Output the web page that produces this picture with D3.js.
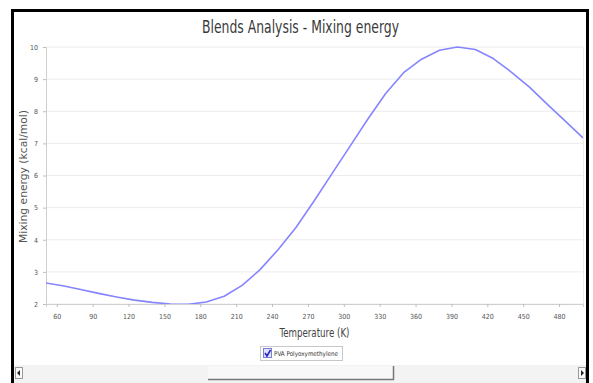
<!DOCTYPE html>
<html>
<head>
<meta charset="utf-8">
<script src="https://cdn.jsdelivr.net/npm/d3@7"></script>
<style>
  html, body { margin: 0; padding: 0; background: #fff; }
  svg { display: block; }
  text { font-family: "Liberation Sans Narrow", "Arial Narrow", "DejaVu Sans Condensed", sans-serif; }
</style>
</head>
<body>
<svg id="chart" width="593" height="383"></svg>
<script>
// Mixing energy of the PVA / Polyoxymethylene blend versus temperature
const temperatures = [50, 65, 80, 95, 110, 125, 140, 155, 170, 185, 200, 215, 230, 245, 260, 275,
                      290, 305, 320, 335, 350, 365, 380, 395, 410, 425, 440, 455, 470, 485, 500];
const mixingEnergy = [2.66, 2.57, 2.45, 2.33, 2.22, 2.12, 2.05, 2.0, 1.99, 2.06, 2.24, 2.58, 3.07, 3.69, 4.38, 5.2,
                      6.05, 6.9, 7.75, 8.55, 9.2, 9.62, 9.9, 10.0, 9.92, 9.64, 9.22, 8.76, 8.22, 7.7, 7.17];
const xTicks = [60, 90, 120, 150, 180, 210, 240, 270, 300, 330, 360, 390, 420, 450, 480];
const yTicks = [2, 3, 4, 5, 6, 7, 8, 9, 10];
const seriesName = "PVA Polyoxymethylene";
const chartTitle = "Blends Analysis - Mixing energy";
const xTitle = "Temperature (K)";
const yTitle = "Mixing energy (kcal/mol)";

const svg = d3.select("#chart");
const plot = { left: 46, top: 47, right: 583, bottom: 304 };

const x = d3.scaleLinear().domain([51, 500]).range([plot.left, plot.right]);
const y = d3.scaleLinear().domain([2, 10]).range([plot.bottom, plot.top]);

// Frame around the whole panel
svg.append("rect")
  .attr("x", 12.5).attr("y", 10.5).attr("width", 575).attr("height", 390)
  .attr("fill", "#fff").attr("stroke", "#000").attr("stroke-width", 3);

// Title (condensed to the panel's narrow type)
svg.append("text")
  .attr("x", 300.5).attr("y", 33)
  .attr("text-anchor", "middle")
  .attr("font-size", 17)
  .attr("textLength", 197).attr("lengthAdjust", "spacingAndGlyphs")
  .attr("fill", "#3a3a3a")
  .text(chartTitle);

// Horizontal grid lines
svg.append("g")
  .selectAll("line")
  .data(yTicks)
  .join("line")
  .attr("x1", plot.left).attr("x2", plot.right)
  .attr("y1", d => y(d)).attr("y2", d => y(d))
  .attr("stroke", "#ececec").attr("stroke-width", 1);

// Right edge of plot area
svg.append("line")
  .attr("x1", plot.right + 0.5).attr("x2", plot.right + 0.5)
  .attr("y1", plot.top).attr("y2", plot.bottom)
  .attr("stroke", "#ececec");

// Y axis
const yAxis = svg.append("g")
  .attr("transform", `translate(${plot.left},0)`)
  .call(d3.axisLeft(y).tickValues(yTicks).tickSize(3).tickPadding(5).tickFormat(d3.format("d")));
yAxis.select(".domain").attr("stroke", "#cfcfcf");
yAxis.selectAll(".tick line").attr("stroke", "#bdbdbd");
yAxis.selectAll(".tick text").attr("font-size", 7).attr("fill", "#555").attr("font-family", null);

// X axis
const xAxis = svg.append("g")
  .attr("transform", `translate(0,${plot.bottom})`)
  .call(d3.axisBottom(x).tickValues(xTicks).tickSize(3).tickPadding(7).tickFormat(d3.format("d")));
xAxis.select(".domain").attr("stroke", "#cfcfcf");
xAxis.selectAll(".tick line").attr("stroke", "#bdbdbd");
xAxis.selectAll(".tick text").attr("font-size", 7).attr("fill", "#555").attr("font-family", null);

// Axis titles
svg.append("text")
  .attr("x", (plot.left + plot.right) / 2).attr("y", 337)
  .attr("text-anchor", "middle")
  .attr("font-size", 12)
  .attr("textLength", 70).attr("lengthAdjust", "spacingAndGlyphs")
  .attr("fill", "#444")
  .text(xTitle);

svg.append("text")
  .attr("transform", `translate(27,${(plot.top + plot.bottom) / 2 + 1}) rotate(-90)`)
  .attr("text-anchor", "middle")
  .attr("font-size", 11)
  .attr("textLength", 133).attr("lengthAdjust", "spacingAndGlyphs")
  .attr("fill", "#555")
  .text(yTitle);

// Series line
const line = d3.line()
  .x((d, i) => x(temperatures[i]))
  .y(d => y(d));

svg.append("defs").append("clipPath").attr("id", "plotClip")
  .append("rect")
  .attr("x", plot.left).attr("y", plot.top - 2)
  .attr("width", plot.right - plot.left).attr("height", plot.bottom - plot.top + 2);

svg.append("path")
  .datum(mixingEnergy)
  .attr("clip-path", "url(#plotClip)")
  .attr("d", line)
  .attr("fill", "none")
  .attr("stroke", "#8585ff")
  .attr("stroke-width", 1.6)
  .attr("stroke-linejoin", "round");

// Legend with checkbox
const legend = svg.append("g").attr("transform", "translate(260,346)");
legend.append("rect")
  .attr("x", 0.5).attr("y", 0.5).attr("width", 82).attr("height", 14)
  .attr("fill", "#fff").attr("stroke", "#c8c8c8");
legend.append("rect")
  .attr("x", 3.5).attr("y", 2.5).attr("width", 8).attr("height", 9)
  .attr("fill", "#dfe3ff").attr("stroke", "#7b7bd8");
legend.append("path")
  .attr("d", "M5,7 L7,10 L10.5,4")
  .attr("fill", "none").attr("stroke", "#2222bb").attr("stroke-width", 1.5);
legend.append("text")
  .attr("x", 14).attr("y", 10)
  .attr("font-size", 6.5)
  .attr("textLength", 64).attr("lengthAdjust", "spacingAndGlyphs")
  .attr("fill", "#333")
  .text(seriesName);

// Horizontal scroll bar
const sb = svg.append("g");
sb.append("rect")
  .attr("x", 14).attr("y", 365).attr("width", 572).attr("height", 18)
  .attr("fill", "#f3f3f3");
sb.append("rect")
  .attr("x", 15.5).attr("y", 367.5).attr("width", 7).attr("height", 11)
  .attr("fill", "#fafafa").attr("stroke", "#999");
sb.append("path").attr("d", "M20,370 L17,373 L20,376 Z").attr("fill", "#222");
sb.append("rect")
  .attr("x", 578.5).attr("y", 367.5).attr("width", 7).attr("height", 11)
  .attr("fill", "#fafafa").attr("stroke", "#999");
sb.append("path").attr("d", "M581,370 L584,373 L581,376 Z").attr("fill", "#222");
sb.append("rect")
  .attr("x", 208).attr("y", 366).attr("width", 185).attr("height", 13)
  .attr("fill", "#f8f8f8");
sb.append("path")
  .attr("d", "M208,379.5 L393.5,379.5 L393.5,366")
  .attr("fill", "none").attr("stroke", "#777").attr("stroke-width", 1.5);
</script>
</body>
</html>
